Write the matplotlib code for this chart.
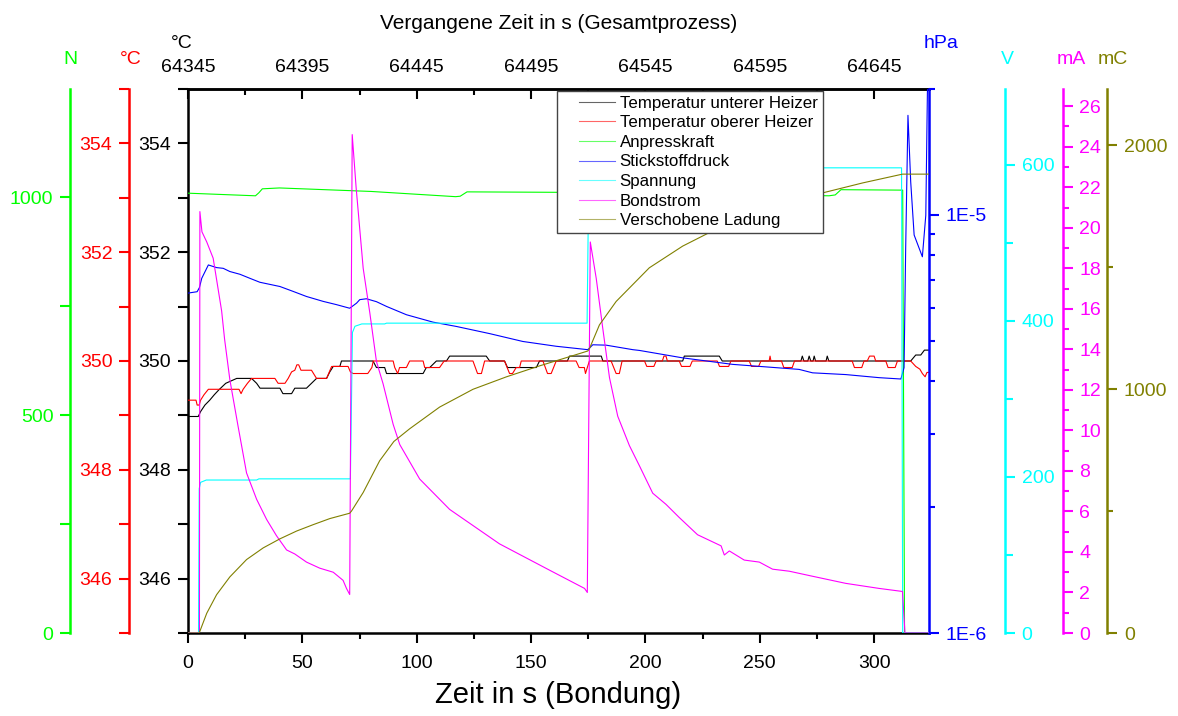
import matplotlib.pyplot as plt
from matplotlib.ticker import MultipleLocator, FixedLocator, FixedFormatter, NullFormatter, LogLocator
from matplotlib.lines import Line2D
from matplotlib.legend_handler import HandlerLine2D

plt.rcParams['font.family'] = ['Liberation Sans', 'DejaVu Sans']

# --- Daten ---
# Temperatur unterer Heizer (degC)
t_unten = [0, 4.5, 5.5, 7.4, 9.5, 11.5, 13.5, 16.5, 21.3, 27.8, 30.0, 31.5, 40.2, 41.5, 45.3,
           46.7, 51.8, 54.0, 56.2, 60.6, 62.0, 63.5, 66.4, 67.1, 80.9, 82.4, 86.0, 86.8, 102.8,
           104.2, 105.7, 108.6, 113.0, 114.4, 130.4, 131.9, 138.4, 139.7, 152.3, 153.7, 165.9,
           166.8, 180.7, 181.4, 216.3, 217.0, 232.3, 233.6, 268.0, 268.6, 269.3, 271.0, 271.6,
           272.3, 273.3, 273.8, 274.4, 279.0, 279.5, 280.2, 316.0, 318.2, 320.4, 322.0, 324.0]
temp_unten = [348.98, 348.98, 349.07, 349.19, 349.28, 349.38, 349.47, 349.59, 349.68, 349.68,
              349.59, 349.50, 349.50, 349.40, 349.40, 349.50, 349.50, 349.59, 349.68, 349.68,
              349.80, 349.90, 349.90, 350.0, 350.0, 349.88, 349.88, 349.77, 349.77, 349.88,
              349.88, 350.0, 350.0, 350.09, 350.09, 350.0, 350.0, 349.88, 349.88, 350.0,
              350.0, 350.09, 350.09, 350.0, 350.0, 350.09, 350.09, 350.0, 350.0, 350.09,
              350.0, 350.0, 350.09, 350.0, 350.0, 350.09, 350.0, 350.0, 350.09, 350.0,
              350.0, 350.11, 350.11, 350.2, 350.2]

# Temperatur oberer Heizer (degC)
t_oben = [0, 3.5, 4.0, 4.9, 5.5, 7.0, 8.9, 22.3, 23.2, 24.1, 26.0, 27.8, 38.0, 39.4, 42.4, 43.8,
          45.3, 46.7, 47.6, 48.4, 49.4, 54.0, 56.2, 60.6, 62.8, 70.0, 71.0, 72.2, 78.6, 80.4,
          81.0, 89.7, 90.4, 91.7, 92.5, 95.5, 96.9, 102.8, 103.5, 110.0, 112.0, 124.6, 126.6,
          128.3, 129.7, 138.4, 140.6, 141.9, 143.5, 145.0, 145.7, 155.2, 157.2, 158.8, 161.0,
          169.7, 171.0, 173.3, 173.8, 174.6, 175.5, 185.0, 187.2, 188.6, 189.8, 199.6, 200.6,
          203.7, 204.7, 207.4, 208.1, 209.0, 209.6, 214.8, 215.8, 219.5, 220.5, 231.4, 232.4,
          236.4, 237.4, 245.4, 246.4, 249.5, 250.5, 254.1, 254.5, 254.9, 259.5, 260.5, 264.2,
          265.2, 290.4, 291.4, 294.6, 295.6, 297.0, 298.0, 300.0, 300.7, 305.1, 306.1, 309.2,
          310.2, 316.0, 318.2, 320.0, 321.1, 322.3, 323.1, 324.0]
temp_oben = [349.28, 349.28, 349.19, 349.19, 349.28, 349.38, 349.48, 349.48, 349.40, 349.48,
             349.59, 349.68, 349.68, 349.59, 349.59, 349.68, 349.80, 349.83, 349.93, 349.93,
             349.83, 349.83, 349.68, 349.68, 349.90, 349.90, 349.80, 349.77, 349.77, 349.88,
             350.0, 350.0, 349.88, 349.77, 349.88, 349.88, 350.0, 350.0, 349.88, 349.88,
             350.0, 350.0, 349.77, 349.77, 350.0, 350.0, 349.77, 349.77, 349.88, 349.88,
             350.0, 350.0, 349.77, 349.77, 350.0, 350.0, 349.88, 349.88, 349.77, 349.88,
             350.0, 350.0, 349.77, 349.77, 350.0, 350.0, 349.9, 349.9, 350.0, 350.0,
             350.09, 350.09, 350.0, 350.0, 349.9, 349.9, 350.0, 350.0, 349.9, 349.9,
             350.0, 350.0, 349.9, 349.9, 350.0, 350.0, 350.09, 350.0, 350.0, 349.88,
             349.88, 350.0, 350.0, 349.88, 349.88, 350.0, 350.0, 350.09, 350.09, 350.0,
             350.0, 349.88, 349.88, 350.0, 350.0, 349.9, 349.85, 349.77, 349.71, 349.79,
             349.79]

# Anpresskraft (N)
t_kraft = [0, 29.5, 31.0, 32.5, 40.0, 80.0, 117.0, 119.0, 122.0, 200.0, 280.3, 283.0, 285.5,
           312.5, 313.3, 324]
kraft = [1009, 1003, 1010, 1019, 1021, 1013, 1001, 1002, 1012, 1010, 1003, 1005, 1017, 1016, 0, 0]

# Stickstoffdruck (hPa)
t_druck = [0, 4.0, 5.0, 6.0, 8.9, 12.5, 15.4, 18.3, 22.7, 27.1, 31.4, 40.2, 46.0, 51.8, 59.1,
           64.9, 70.7, 73.7, 75.1, 78.0, 82.4, 86.8, 95.5, 107.1, 117.3, 131.9, 146.4, 161.0,
           174.8, 177.0, 182.8, 194.5, 197.4, 216.3, 238.1, 267.2, 273.1, 287.6, 302.2, 311.7,
           313.1, 313.8, 314.8, 316.0, 317.5, 321.1, 322.6, 323.3, 324]
druck = [6.50e-6, 6.55e-6, 6.7e-6, 7.05e-6, 7.59e-6, 7.48e-6, 7.45e-6, 7.32e-6, 7.21e-6,
         7.05e-6, 6.90e-6, 6.74e-6, 6.56e-6, 6.38e-6, 6.21e-6, 6.10e-6, 5.98e-6, 6.15e-6,
         6.27e-6, 6.30e-6, 6.20e-6, 6.04e-6, 5.77e-6, 5.54e-6, 5.41e-6, 5.20e-6, 4.98e-6,
         4.85e-6, 4.76e-6, 4.89e-6, 4.88e-6, 4.76e-6, 4.74e-6, 4.55e-6, 4.39e-6, 4.27e-6,
         4.19e-6, 4.15e-6, 4.08e-6, 4.05e-6, 4.31e-6, 8.31e-6, 1.73e-5, 1.20e-5, 8.95e-6,
         7.94e-6, 9.98e-6, 1.96e-5, 2.5e-5]

# Spannung (V)
t_spannung = [0, 4.6, 4.9, 5.5, 8.0, 30.0, 31.0, 71.0, 71.5, 71.9, 73.0, 76.0, 86.0, 86.8,
              174.5, 174.9, 175.3, 312.0, 312.5, 324]
spannung = [0, 0, 185, 193, 196, 196, 197.5, 197.5, 300, 385, 393, 396, 396, 397, 397, 500,
            596, 596, 0, 0]

# Bondstrom (mA)
t_strom = [0, 5.0, 5.2, 6.1, 8.2, 11.0, 14.7, 16.0, 18.3, 21.9, 25.6, 30.0, 34.4, 38.7, 43.1,
           46.7, 51.8, 57.6, 63.5, 67.8, 69.3, 70.7, 71.8, 73.5, 76.6, 79.5, 82.4, 85.3, 89.7,
           92.6, 101.3, 114.4, 136.2, 158.1, 173.4, 174.6, 175.9, 178.5, 181.4, 184.3, 187.9,
           193.0, 197.4, 203.2, 209.0, 214.8, 222.8, 233.1, 234.5, 236.7, 243.2, 249.8, 255.6,
           262.9, 273.1, 287.6, 302.2, 312.4, 313.5, 324]
strom = [0, 0, 20.8, 19.8, 19.3, 18.5, 15.9, 14.5, 12.5, 10.2, 7.9, 6.6, 5.6, 4.8, 4.1, 3.9,
         3.5, 3.2, 3.0, 2.6, 2.2, 1.9, 24.6, 22.0, 18.0, 15.8, 13.4, 12.3, 10.3, 9.3, 7.6, 6.1,
         4.4, 3.1, 2.2, 2.0, 19.3, 17.5, 15.0, 12.6, 10.7, 9.25, 8.25, 6.9, 6.35, 5.7, 4.85,
         4.3, 3.85, 4.05, 3.6, 3.5, 3.15, 3.05, 2.8, 2.45, 2.2, 2.05, 0, 0]

# Verschobene Ladung (mC)
t_ladung = [0, 4.9, 8.2, 12.5, 18.3, 25.6, 32.9, 40.2, 47.5, 54.7, 62.0, 70.7, 71.5, 76.6,
            83.8, 90.0, 96.9, 110.0, 124.6, 139.2, 153.7, 168.3, 174.8, 175.5, 179.9, 187.2,
            201.7, 216.3, 232.3, 250.0, 265.0, 280.0, 295.0, 312.4, 324]
ladung = [0, 0, 81, 157, 230, 301, 349, 386, 418, 444, 469, 491, 500, 576, 706, 785, 837,
          926, 999, 1050, 1095, 1137, 1156, 1165, 1263, 1359, 1497, 1586, 1662, 1730, 1775,
          1810, 1845, 1881, 1881]

top_ticks = [64345, 64395, 64445, 64495, 64545, 64595, 64645]
top_minor = [64370, 64420, 64470, 64520, 64570, 64620, 64670]
t_offset = 64345

W, H = 1178, 716
fig = plt.figure(figsize=(W / 100, H / 100), dpi=100)
ax = fig.add_axes([188 / W, 83 / H, 741 / W, 544 / H])

FS = 14


def side_axis(side, pos, color):
    a = ax.twinx()
    for s in a.spines.values():
        s.set_visible(False)
    sp = a.spines[side]
    sp.set_visible(True)
    sp.set_position(('axes', pos))
    sp.set_color(color)
    sp.set_linewidth(1.8)
    a.yaxis.set_ticks_position(side)
    a.tick_params(axis='y', which='both', colors=color, labelsize=FS, width=1.5,
                  direction='out', pad=5)
    a.tick_params(axis='y', which='major', length=7)
    a.tick_params(axis='y', which='minor', length=4)
    return a


# main axis: lower heater temperature
l1, = ax.plot(t_unten, temp_unten, color='black', lw=0.8, label='Temperatur unterer Heizer')
ax.set_xlim(0, 324)
ax.set_ylim(345, 355)
ax.yaxis.set_major_locator(MultipleLocator(2))
ax.yaxis.set_minor_locator(MultipleLocator(1))
ax.xaxis.set_major_locator(MultipleLocator(50))
ax.xaxis.set_minor_locator(MultipleLocator(25))
ax.tick_params(axis='y', which='both', length=7, width=1.5, labelsize=FS, pad=5)
ax.tick_params(axis='x', which='major', length=7, width=1.5, labelsize=FS, pad=9)
ax.tick_params(axis='x', which='minor', length=4, width=1.5)
ax.spines['right'].set_visible(False)
for s in ['left', 'bottom', 'top']:
    ax.spines[s].set_linewidth(1.8)
ax.set_xlabel('Zeit in s (Bondung)', fontsize=21, labelpad=6)

# top axis: total process time
sec = ax.secondary_xaxis('top', functions=(lambda x: x + t_offset, lambda x: x - t_offset))
sec.xaxis.set_major_locator(FixedLocator(top_ticks))
sec.xaxis.set_minor_locator(FixedLocator(top_minor))
sec.xaxis.set_major_formatter(FixedFormatter([str(v) for v in top_ticks]))
sec.tick_params(axis='x', which='major', direction='in', length=7, width=1.5, labelsize=FS, pad=9)
sec.tick_params(axis='x', which='minor', direction='in', length=4, width=1.5)
sec.spines['top'].set_linewidth(1.8)
sec.set_xlabel('Vergangene Zeit in s (Gesamtprozess)', fontsize=15, labelpad=22)

# red: upper heater
ax_r = side_axis('left', -0.0796, '#ff0000')
l2, = ax_r.plot(t_oben, temp_oben, color='#ff0000', lw=0.8, label='Temperatur oberer Heizer')
ax_r.set_ylim(345, 355)
ax_r.yaxis.set_major_locator(MultipleLocator(2))
ax_r.yaxis.set_minor_locator(MultipleLocator(1))
ax_r.tick_params(axis='y', which='minor', length=7)

# green: force
ax_g = side_axis('left', -0.1592, '#00ff00')
l3, = ax_g.plot(t_kraft, kraft, color='#00ff00', lw=0.8, label='Anpresskraft')
ax_g.set_ylim(0, 1248)
ax_g.yaxis.set_major_locator(MultipleLocator(500))
ax_g.yaxis.set_minor_locator(MultipleLocator(250))
ax_g.tick_params(axis='y', which='minor', length=7)

# blue: nitrogen pressure (log)
ax_b = side_axis('right', 1.0, '#0000ff')
l4, = ax_b.plot(t_druck, druck, color='#0000ff', lw=0.8, label='Stickstoffdruck')
ax_b.set_yscale('log')
ax_b.set_ylim(1e-6, 2e-5)
ax_b.yaxis.set_major_locator(FixedLocator([1e-6, 1e-5]))
ax_b.yaxis.set_major_formatter(FixedFormatter(['1E-6', '1E-5']))
ax_b.yaxis.set_minor_locator(LogLocator(base=10, subs=[2, 3, 4, 5, 6, 7, 8, 9]))
ax_b.yaxis.set_minor_formatter(NullFormatter())
ax_b.tick_params(axis='y', which='both', colors='#0000ff', width=1.5)
ax_b.tick_params(axis='y', which='major', length=7, pad=5)
ax_b.tick_params(axis='y', which='minor', length=4)

# cyan: voltage
ax_c = side_axis('right', 1.1026, '#00ffff')
l5, = ax_c.plot(t_spannung, spannung, color='#00ffff', lw=0.8, label='Spannung')
ax_c.set_ylim(0, 697)
ax_c.yaxis.set_major_locator(MultipleLocator(200))
ax_c.yaxis.set_minor_locator(MultipleLocator(100))
ax_c.tick_params(axis='y', which='minor', length=6)

# magenta: bond current
ax_m = side_axis('right', 1.1804, '#ff00ff')
l6, = ax_m.plot(t_strom, strom, color='#ff00ff', lw=0.8, label='Bondstrom')
ax_m.set_ylim(0, 26.85)
ax_m.yaxis.set_major_locator(MultipleLocator(2))
ax_m.yaxis.set_minor_locator(MultipleLocator(1))

# olive: charge
ax_o = side_axis('right', 1.2406, '#808000')
l7, = ax_o.plot(t_ladung, ladung, color='#808000', lw=0.8, label='Verschobene Ladung')
ax_o.set_ylim(0, 2230)
ax_o.yaxis.set_major_locator(MultipleLocator(1000))
ax_o.yaxis.set_minor_locator(MultipleLocator(500))

lines = [l1, l2, l3, l4, l5, l6, l7]
leg = ax_o.legend(lines, [l.get_label() for l in lines], loc='upper left',
                  bbox_to_anchor=(0.498, 0.997), fontsize=12.2, frameon=True, fancybox=False,
                  framealpha=1, edgecolor='#444444', borderpad=0.3, labelspacing=0.27,
                  handlelength=3.1, handletextpad=0.3, borderaxespad=0,
                  handler_map={Line2D: HandlerLine2D(xpad=1.0)})
leg.get_frame().set_linewidth(1.0)
for hl in leg.get_lines():
    hl.set_alpha(0.6)

# unit labels above the axes
units = [('N', 70, 60, '#00ff00'), ('°C', 131, 60, '#ff0000'), ('°C', 182, 44, 'black'),
         ('hPa', 941, 44, '#0000ff'), ('V', 1007, 60, '#00ffff'), ('mA', 1071, 60, '#ff00ff'),
         ('mC', 1113, 60, '#808000')]
for txt, px, py, col in units:
    fig.text(px / W, 1 - py / H, txt, color=col, fontsize=FS, ha='center', va='center')

fig.savefig('out.png', dpi=100)
